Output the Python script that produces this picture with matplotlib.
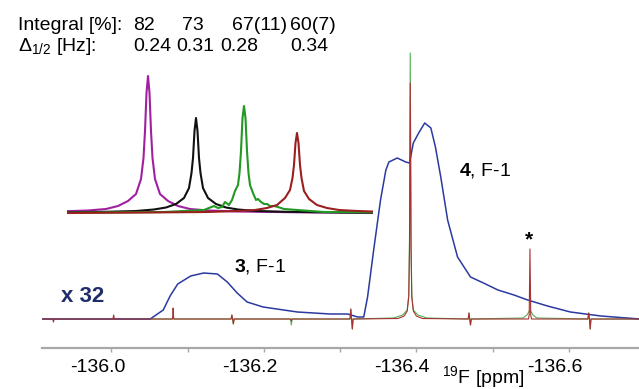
import matplotlib
matplotlib.use("Agg")
import matplotlib.pyplot as plt
import matplotlib.transforms as mtransforms

plt.rcParams['font.family'] = ['Liberation Sans', 'DejaVu Sans']
plt.rcParams['mathtext.fontset'] = 'custom'
plt.rcParams['mathtext.rm'] = 'Liberation Sans'
plt.rcParams['mathtext.it'] = 'Liberation Sans:italic'
plt.rcParams['mathtext.bf'] = 'Liberation Sans:bold'

# ---- header table ----
integral_labels = ["82", "73", "67(11)", "60(7)"]
width_labels = ["0.24", "0.31", "0.28", "0.34"]

# ---- main spectrum: broad component x 32 (blue) ----
blue_ppm = [-135.909, -136.051, -136.068, -136.077, -136.087, -136.104, -136.121,
            -136.139, -136.152, -136.165, -136.178, -136.199, -136.244, -136.287,
            -136.310, -136.323, -136.331, -136.336, -136.344, -136.353, -136.360,
            -136.364, -136.375, -136.386, -136.391, -136.396, -136.403, -136.411,
            -136.419, -136.425, -136.432, -136.441, -136.454, -136.471, -136.488,
            -136.507, -136.528, -136.546, -136.572, -136.602, -136.642, -136.693]
blue_int = [0, 0, 9, 23, 35, 43, 46,
            45, 37, 26, 17, 12, 7, 5,
            5, 2, 2, 22, 69, 119, 149,
            157, 161, 157, 156, 176, 186, 196,
            191, 172, 142, 99, 62, 42, 36,
            29, 24, 19, 13, 7, 3, 0]

# ---- sharp component (red) ----
red_ppm = [-135.909,
           -135.923, -135.924, -135.925,
           -136.002, -136.003, -136.004,
           -136.080, -136.0805, -136.081, -136.0815, -136.082,
           -136.157, -136.158, -136.159, -136.160, -136.161,
           -136.235, -136.236, -136.237,
           -136.313, -136.314, -136.315, -136.316, -136.317,
           -136.376, -136.384, -136.388, -136.390, -136.391, -136.392,
           -136.393, -136.394, -136.396, -136.400, -136.408,
           -136.468, -136.469, -136.470, -136.471, -136.472,
           -136.547, -136.548, -136.549, -136.550, -136.551,
           -136.625, -136.626, -136.627, -136.628, -136.629,
           -136.693]
red_int = [0,
           0, -3, 0,
           0, 4, 0,
           0, 3, 11, 3, 0,
           0, 4, 0, -5, 0,
           0, -2, 0,
           0, 10, 0, -10, 0,
           0.5, 3, 8, 22, 70, 236,
           70, 22, 8, 3, 0.5,
           0, 6, 0, -6, 0,
           0, 4, 70, 4, 0,
           0, 6, 0, -10, 0,
           0]

# ---- sharp component (green) ----
green_ppm = [-135.909,
             -136.157, -136.158, -136.159, -136.160, -136.161,
             -136.235, -136.236, -136.237,
             -136.313, -136.314, -136.315, -136.316, -136.317,
             -136.370, -136.382, -136.388, -136.390, -136.391, -136.392,
             -136.393, -136.394, -136.396, -136.402, -136.414,
             -136.468, -136.469, -136.470, -136.471, -136.472,
             -136.540, -136.545, -136.549, -136.553, -136.558,
             -136.625, -136.626, -136.627, -136.628, -136.629,
             -136.693]
green_int = [0,
             0, 4, 0, -5, 0,
             0, -6, 0,
             0, 10, 0, -10, 0,
             1, 4, 9, 24, 80, 266,
             80, 24, 9, 4, 1,
             0, 6, 0, -6, 0,
             1, 4, 9, 4, 1,
             0, 6, 0, -10, 0,
             0]

# ---- inset: four lines, offsets from line centre (inset px) ----
inset_centres = [148, 196, 244, 297]
inset_colors = ["#a020a0", "#111111", "#229922", "#9a1f1f"]
lor_offsets = [-230, -150, -90, -60, -42, -30, -20, -12, -7, -4.5, -3, -1.5, 0,
               1.5, 3, 4.5, 7, 12, 20, 30, 42, 60, 90, 150, 230]
purple_h = [0, 0.7, 1.5, 2.5, 4, 7, 12, 19, 34, 55, 82, 120, 137,
            120, 82, 55, 34, 19, 12, 7, 4, 2.5, 1.5, 0.7, 0]
black_h = [0, 0.5, 1.2, 2, 3.5, 5.5, 9, 15, 25, 40, 55, 82, 95,
           82, 55, 40, 25, 15, 9, 5.5, 3.5, 2, 1.2, 0.5, 0]
red_h = [0, 0.5, 1, 2, 3, 5, 8, 15, 23, 35, 48, 70, 80,
         70, 48, 35, 22, 14, 8, 5, 3, 2, 1, 0.5, 0]
green_offsets = [-230, -80, -40, -30, -26, -22, -19, -15, -12, -9, -6, -4.5, -3, -1.5, 0,
                 1.5, 3, 4.5, 6, 9, 12, 14, 17, 20, 23, 26, 30, 34, 40, 80, 230]
green_h = [0, 1, 3, 7, 5, 6, 11, 8, 13, 22, 28, 40, 62, 95, 107,
           95, 62, 40, 28, 20, 13, 14, 11, 9, 9, 7, 7, 6, 4, 1, 0]

W, H = 639, 389
fig = plt.figure(figsize=(W / 100, H / 100), dpi=100)

# main axes
ax = fig.add_axes([42 / W, (H - 348) / H, (W - 42) / W, 348 / H])
ax.plot(green_ppm, green_int, color="#55b055", lw=0.8, zorder=2)
ax.plot(blue_ppm, blue_int, color="#2b3aa0", lw=1.1, zorder=3)
ax.plot(red_ppm, red_int, color="#a83232", lw=0.8, zorder=4)
ax.set_xlim(-135.909, -136.692)
ax.set_ylim(-29, 319)
for s in ["top", "right", "left"]:
    ax.spines[s].set_visible(False)
ax.spines["bottom"].set_color("#a8a8a8")
ax.spines["bottom"].set_linewidth(1.6)
ax.set_yticks([])
ax.set_xticks([-136.0, -136.2, -136.4, -136.6])
ax.set_xticklabels(["-136.0", "-136.2", "-136.4", "-136.6"])
ax.set_xticks([-136.1, -136.3, -136.5], minor=True)
ax.tick_params(axis="x", which="both", direction="out", length=3, width=1,
               color="#a8a8a8", labelsize=14, pad=5)
# labels sit a little left of their ticks in the original
shift = mtransforms.ScaledTranslation(-14 / 100, 0, fig.dpi_scale_trans)
for lab in ax.get_xticklabels():
    lab.set_transform(lab.get_transform() + shift)

# inset
ins = fig.add_axes([67 / W, (H - 215) / H, 306 / W, 145 / H])
ins.set_xlim(67, 373)
ins.set_ylim(-2, 143)
ins.axis("off")
for c, col, offs, hs in zip(inset_centres, inset_colors,
                            [lor_offsets, lor_offsets, green_offsets, lor_offsets],
                            [purple_h, black_h, green_h, red_h]):
    ins.plot([c + o for o in offs], hs, color=col, lw=1.5)

# header text
def px(x, y):
    return x / W, 1 - y / H

fig.text(*px(18, 30), "Integral [%]:", fontsize=14, va="baseline")
fig.text(*px(18, 51), r"$\Delta_{1/2}$ [Hz]:", fontsize=14, va="baseline")
for x, t in zip([133, 182, 232, 290], integral_labels):
    fig.text(*px(x, 30), t, fontsize=14, va="baseline")
for x, t in zip([133, 176, 220, 290], width_labels):
    fig.text(*px(x, 51), t, fontsize=14, va="baseline")

fig.text(*px(260, 267), r"$\mathbf{3}$, F-1", fontsize=14, ha="center", va="center")
fig.text(*px(485, 170), r"$\mathbf{4}$, F-1", fontsize=14, ha="center", va="center")
fig.text(*px(83, 296), "x 32", fontsize=16, fontweight="bold", color="#1f2d6b",
         ha="center", va="center")
fig.text(*px(529, 240), "*", fontsize=15, fontweight="bold", ha="center", va="center")
fig.text(*px(483, 377), r"$^{19}$F [ppm]", fontsize=14, ha="center", va="center")

fig.savefig("out.png", dpi=100)
